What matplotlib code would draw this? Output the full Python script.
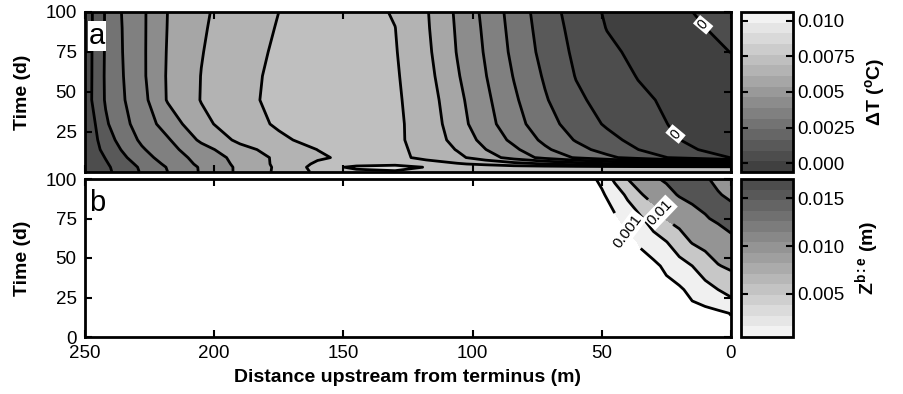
import numpy as np
import matplotlib
matplotlib.use("Agg")
import matplotlib.pyplot as plt
from matplotlib.colors import ListedColormap, Normalize
from matplotlib.cm import ScalarMappable

plt.rcParams['font.family'] = ['Liberation Sans', 'DejaVu Sans']
plt.rcParams['mathtext.fontset'] = 'custom'
plt.rcParams['mathtext.rm'] = 'Liberation Sans'
plt.rcParams['mathtext.bf'] = 'Liberation Sans:bold'
plt.rcParams['mathtext.it'] = 'Liberation Sans:italic'

# distance upstream from terminus (m) and time (d) of the gridded fields
dist_a = [250, 246, 242, 236, 228, 218, 205, 190, 175, 160, 145, 130, 118, 106, 95, 84, 72, 60, 48, 36, 24, 12, 0]
time_a = [0, 3, 5, 9, 14, 20, 30, 45, 60, 75, 90, 100]
# temperature change dT (deg C), one row per time
dT = [
    [0.0002, 0.0005, 0.0008, 0.0013, 0.0021, 0.0030, 0.0041, 0.0052, 0.0062, 0.0072, 0.0076, 0.0077, 0.0076, 0.0075, 0.0075, 0.0075, 0.0075, 0.0075, 0.0075, 0.0075, 0.0075, 0.0075, 0.0075],
    [0.0002, 0.00051, 0.00083, 0.00138, 0.00216, 0.00306, 0.00411, 0.0052, 0.00618, 0.00733, 0.0083, 0.0088, 0.0079, 0.0077, 0.0076, 0.0075, 0.0075, 0.0075, 0.0075, 0.0075, 0.0075, 0.0075, 0.0075],
    [0.0002, 0.00054, 0.00089, 0.00149, 0.0023, 0.00321, 0.00423, 0.00525, 0.00622, 0.00717, 0.0075, 0.0075, 0.0073, 0.0071, 0.0068, 0.0064, 0.0060, 0.0056, 0.0052, 0.0048, 0.0044, 0.0040, 0.0035],
    [0.0002, 0.00062, 0.00104, 0.00175, 0.00261, 0.00345, 0.00436, 0.00534, 0.00621, 0.00686, 0.00728, 0.00718, 0.00683, 0.00624, 0.00548, 0.0046, 0.00371, 0.0029, 0.00223, 0.00159, 0.00097, 0.00048, -0.00002],
    [0.0003, 0.00077, 0.00126, 0.00202, 0.00289, 0.00367, 0.00464, 0.00568, 0.00641, 0.00701, 0.0075, 0.00722, 0.0067, 0.00595, 0.00502, 0.00419, 0.00317, 0.00234, 0.00164, 0.00101, 0.00047, -0.00003, -0.0003],
    [0.0004, 0.00086, 0.00147, 0.00234, 0.00317, 0.00389, 0.00517, 0.00622, 0.00682, 0.00731, 0.00749, 0.00716, 0.00665, 0.00567, 0.00469, 0.00377, 0.00278, 0.00193, 0.0013, 0.0007, 0.00013, -0.00022, -0.0005],
    [0.0005, 0.0010, 0.00185, 0.00265, 0.00345, 0.00442, 0.00574, 0.00656, 0.00713, 0.00748, 0.00742, 0.00715, 0.00665, 0.00541, 0.00438, 0.00338, 0.0024, 0.00156, 0.00088, 0.00042, -0.00002, -0.00031, -0.0006],
    [0.0005, 0.00127, 0.0021, 0.00285, 0.00366, 0.00508, 0.00604, 0.00678, 0.00721, 0.0075, 0.00741, 0.00714, 0.00652, 0.00528, 0.00422, 0.00316, 0.0021, 0.00119, 0.00064, 0.00019, -0.00015, -0.0004, -0.00065],
    [0.0005, 0.00125, 0.00213, 0.0029, 0.0038, 0.0051, 0.00602, 0.00674, 0.00719, 0.0075, 0.0074, 0.00711, 0.00636, 0.0051, 0.00404, 0.00295, 0.00188, 0.00096, 0.00045, -0.00004, -0.00032, -0.0006, -0.0006],
    [0.0005, 0.00124, 0.00211, 0.00294, 0.00381, 0.00507, 0.00596, 0.00663, 0.00714, 0.00747, 0.0074, 0.00706, 0.00623, 0.00496, 0.00391, 0.00277, 0.00168, 0.00081, 0.0002, -0.00022, -0.00054, -0.00038, 0.00002],
    [0.0005, 0.0012, 0.0021, 0.00296, 0.00381, 0.00503, 0.0059, 0.00652, 0.00706, 0.00743, 0.0074, 0.00701, 0.00614, 0.00489, 0.00382, 0.00266, 0.00156, 0.00067, -0.00003, -0.0004, -0.0005, -0.00007, 0.0003],
    [0.0005, 0.0012, 0.0021, 0.00299, 0.00381, 0.00501, 0.00586, 0.00646, 0.0070, 0.00741, 0.00738, 0.00692, 0.0061, 0.00484, 0.00375, 0.00259, 0.00148, 0.00056, -0.00012, -0.0005, -0.00029, 0.00009, 0.0004],
]

dist_b = [250, 60, 55, 50, 45, 40, 35, 30, 25, 20, 15, 10, 5, 0]
time_b = [0, 15, 30, 45, 60, 75, 90, 100]
# bed elevation change Z^{b:e} (m)
zbe = [
    [0, 0, 0, 0, 0, 0, 0, 0, 0, 0, 0, 0, 0, 0],
    [0, 0, 0, 0, 0, 0, 0, 0, 0, 0, 0, 0, 0.0004, 0.0011],
    [0, 0, 0, 0, 0, 0, 0, 0, 0, 0.0005, 0.00192, 0.00346, 0.005, 0.0068],
    [0, 0, 0, 0, 0, 0, 0, 0.00025, 0.00167, 0.00333, 0.005, 0.00738, 0.00976, 0.0108],
    [0, 0, 0, 0, 0, 0, 0.00135, 0.00309, 0.00483, 0.00765, 0.0103, 0.0116, 0.0129, 0.0142],
    [0, 0, 0, 0, 0.0005, 0.00226, 0.00437, 0.00733, 0.0103, 0.0118, 0.0132, 0.0147, 0.0156, 0.0163],
    [0, 0, 0, 0.0005, 0.0027, 0.0058, 0.0096, 0.0118, 0.0138, 0.0153, 0.0162, 0.0163, 0.0152, 0.0145],
    [0, 0, 0, 0.0018, 0.0058, 0.0100, 0.0123, 0.0145, 0.0155, 0.0162, 0.0161, 0.0153, 0.0144, 0.0135],
]

lev_a = np.linspace(-0.001, 0.009, 11)
lev_b = [0.001, 0.005, 0.01, 0.015]
LW = 2.0


def label_lines(ax, X, Y, Z, levels, spots, size):
    # labelled contours get their own set so clabel only sees those levels
    cs = ax.contour(X, Y, Z, levels=levels, colors='k', linewidths=LW)
    for txt in ax.clabel(cs, manual=spots, fmt='%g', fontsize=size, inline=True, inline_spacing=3):
        txt.set_bbox(dict(facecolor='white', edgecolor='none', pad=1.2))


fig = plt.figure(figsize=(9.04, 3.94), dpi=100)
W, H = 904.0, 394.0
ax_a = fig.add_axes([85 / W, 1 - 172 / H, 646 / W, 160 / H])
ax_b = fig.add_axes([85 / W, 1 - 337 / H, 646 / W, 158 / H])
cax_a = fig.add_axes([741 / W, 1 - 172 / H, 52 / W, 160 / H])
cax_b = fig.add_axes([741 / W, 1 - 337 / H, 52 / W, 158 / H])

# panel a: temperature change
cmap_a = ListedColormap([str(g) for g in np.linspace(0.25, 0.95, 15)])
norm_a = Normalize(vmin=-0.0006, vmax=0.0106)
Da, Ta = np.meshgrid(dist_a, time_a)
Za = np.array(dT)
ax_a.contourf(Da, Ta, Za, levels=lev_a, cmap=cmap_a, norm=norm_a)
ax_a.contour(Da, Ta, Za, levels=lev_a[2:-1], colors='k', linewidths=LW)
label_lines(ax_a, Da, Ta, Za, [0.0], [(13, 89), (25, 19)], 10)

# panel b: bed elevation change
Db, Tb = np.meshgrid(dist_b, time_b)
Zb = np.array(zbe)
ax_b.contourf(Db, Tb, Zb, levels=[-1] + lev_b + [1],
              colors=['white', '0.94', '0.78', '0.58', '0.33'])
ax_b.contour(Db, Tb, Zb, levels=[0.005, 0.015], colors='k', linewidths=LW)
label_lines(ax_b, Db, Tb, Zb, [0.001, 0.01], [(41, 66), (28, 78)], 11)

for ax in (ax_a, ax_b):
    ax.set_xlim(250, 0)
    ax.set_ylim(0, 100)
    ax.set_xticks([250, 200, 150, 100, 50, 0])
    ax.tick_params(direction='in', top=True, right=True, length=5, width=1.5, labelsize=13.5, pad=6)
    for s in ax.spines.values():
        s.set_linewidth(2)
    ax.set_ylabel('Time (d)', fontsize=14, fontweight='bold', labelpad=10)

ax_a.set_yticks([25, 50, 75, 100])
ax_a.tick_params(labelbottom=False)
ax_b.set_yticks([0, 25, 50, 75, 100])
ax_b.set_xlabel('Distance upstream from terminus (m)', fontsize=14, fontweight='bold', labelpad=5)

ax_a.text(0.006, 0.85, 'a', transform=ax_a.transAxes, fontsize=21, ha='left', va='center',
          bbox=dict(facecolor='white', edgecolor='none', pad=0.6))
ax_b.text(0.006, 0.85, 'b', transform=ax_b.transAxes, fontsize=21, ha='left', va='center')

# colour bars
cb_a = fig.colorbar(ScalarMappable(norm=norm_a, cmap=cmap_a), cax=cax_a)
cb_a.set_ticks([0, 0.0025, 0.005, 0.0075, 0.01])
cb_a.set_ticklabels(['0.000', '0.0025', '0.005', '0.0075', '0.010'])
cb_a.set_label(r'$\mathbf{\Delta T\ (^{o}C)}$', fontsize=14, labelpad=6)

cmap_b = ListedColormap([str(g) for g in np.linspace(0.95, 0.3, 15)])
norm_b = Normalize(vmin=0.0005, vmax=0.017)
cb_b = fig.colorbar(ScalarMappable(norm=norm_b, cmap=cmap_b), cax=cax_b)
cb_b.set_ticks([0.005, 0.01, 0.015])
cb_b.set_ticklabels(['0.005', '0.010', '0.015'])
cb_b.set_label(r'$\mathbf{Z^{b{:}e}\ (m)}$', fontsize=14, labelpad=6)

for cb in (cb_a, cb_b):
    cb.outline.set_linewidth(2)
    cb.ax.tick_params(direction='in', left=True, right=True, length=5, width=1.5, labelsize=13.5, pad=3)

fig.savefig('out.png', dpi=100)
